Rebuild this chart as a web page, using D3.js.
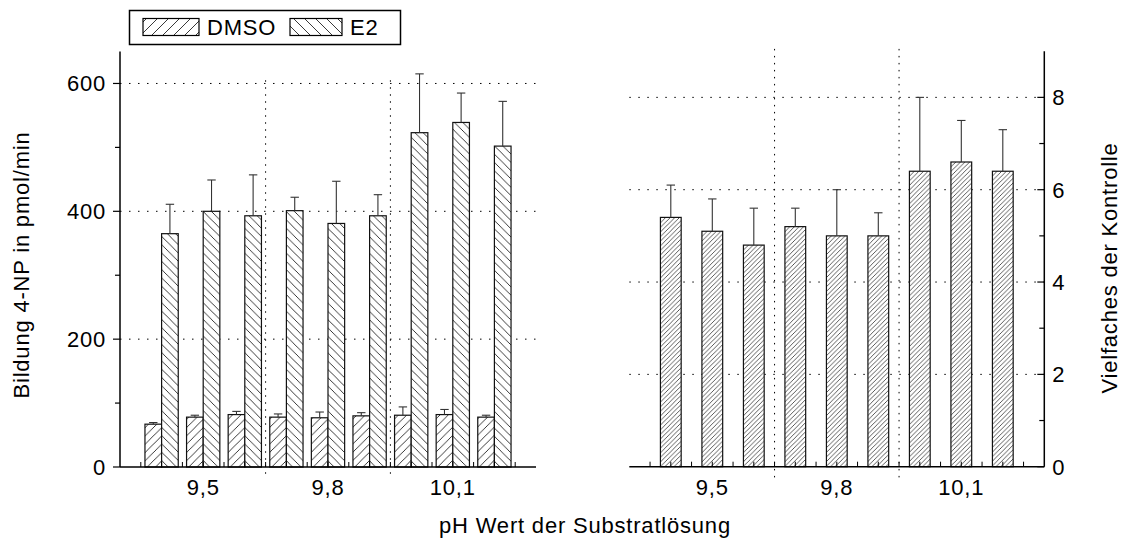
<!DOCTYPE html>
<html>
<head>
<meta charset="utf-8">
<script src="https://cdn.jsdelivr.net/npm/d3@7"></script>
<style>
  body { margin: 0; background: #fff; }
  text { font-family: "Liberation Sans", Arial, sans-serif; fill: #000; }
</style>
</head>
<body>
<div id="chart"></div>
<script>
// pH groups, three samples each
const groups = ["9,5", "9,8", "10,1"];
const dmso    = [67, 78, 82, 78, 77, 80, 81, 82, 78];
const dmsoErr = [2.5, 3, 5, 5, 9, 5, 13, 8, 3];
const e2      = [365, 400, 393, 401, 381, 393, 523, 539, 502];
const e2Err   = [46, 49, 64, 21, 66, 33, 92, 46, 70];
// fold of control (right panel)
const fold    = [5.4, 5.1, 4.8, 5.2, 5.0, 5.0, 6.4, 6.6, 6.4];
const foldErr = [0.7, 0.7, 0.8, 0.4, 1.0, 0.5, 1.6, 0.9, 0.9];
const leftTicks = [0, 200, 400, 600];
const leftMinor = [100, 300, 500];
const rightTicks = [0, 2, 4, 6, 8];
const rightMinor = [1, 3, 5, 7];

const width = 1124, height = 542;
const svg = d3.select("#chart").append("svg")
    .attr("width", width).attr("height", height);

// hatch patterns
const defs = svg.append("defs");
function hatch(id, size, dir, col, sw) {
    const s = size;
    const d = dir === "/"
        ? `M0,${s} L${s},0 M${-s / 2},${s / 2} L${s / 2},${-s / 2} M${s / 2},${s * 1.5} L${s * 1.5},${s / 2}`
        : `M0,0 L${s},${s} M${-s / 2},${s / 2} L${s / 2},${s * 1.5} M${s / 2},${-s / 2} L${s * 1.5},${s / 2}`;
    const p = defs.append("pattern").attr("id", id)
        .attr("patternUnits", "userSpaceOnUse")
        .attr("width", s).attr("height", s);
    p.append("rect").attr("width", s).attr("height", s).attr("fill", "#fff");
    p.append("path").attr("d", d).attr("stroke", col).attr("stroke-width", sw).attr("fill", "none");
}
hatch("dmsoL", 8.3, "/", "#222", 0.9);
hatch("e2L", 8.3, "\\", "#222", 0.9);
hatch("foldR", 4.6, "/", "#333", 0.8);
hatch("dmsoLeg", 11, "/", "#222", 0.9);
hatch("e2Leg", 11, "\\", "#222", 0.9);

const fontSize = 22, ls = "0.8px";

// ---------- left panel ----------
const xL = d3.scaleLinear().domain([0, 10]).range([120, 536]);
const yL = d3.scaleLinear().domain([0, 650]).range([467, 51.5]);
const L = svg.append("g");

// grid
L.selectAll(".hg").data(leftTicks.filter(d => d > 0)).enter().append("line")
    .attr("x1", xL(0)).attr("x2", xL(10))
    .attr("y1", d => yL(d)).attr("y2", d => yL(d))
    .attr("stroke", "#000").attr("stroke-width", 1).attr("stroke-dasharray", "1.5,7.5");
L.selectAll(".vs").data([3.5, 6.5]).enter().append("line")
    .attr("x1", d => xL(d)).attr("x2", d => xL(d))
    .attr("y1", yL(605)).attr("y2", 479)
    .attr("stroke", "#000").attr("stroke-width", 1).attr("stroke-dasharray", "1.5,5.5");

const bwL = xL(0.4) - xL(0);
const samples = d3.range(9);

// bars DMSO / E2
L.selectAll(".bd").data(samples).enter().append("rect")
    .attr("x", i => xL(i + 1) - bwL).attr("width", bwL)
    .attr("y", i => yL(dmso[i])).attr("height", i => yL(0) - yL(dmso[i]))
    .attr("fill", "url(#dmsoL)").attr("stroke", "#111").attr("stroke-width", 1.2);
L.selectAll(".be").data(samples).enter().append("rect")
    .attr("x", i => xL(i + 1)).attr("width", bwL)
    .attr("y", i => yL(e2[i])).attr("height", i => yL(0) - yL(e2[i]))
    .attr("fill", "url(#e2L)").attr("stroke", "#111").attr("stroke-width", 1.2);

function errBar(g, cx, y0, y1) {
    g.append("line").attr("x1", cx).attr("x2", cx).attr("y1", y0).attr("y2", y1)
        .attr("stroke", "#333").attr("stroke-width", 1.1);
    g.append("line").attr("x1", cx - 4.2).attr("x2", cx + 4.2).attr("y1", y1).attr("y2", y1)
        .attr("stroke", "#333").attr("stroke-width", 1.1);
}
samples.forEach(i => {
    errBar(L, xL(i + 1) - bwL / 2, yL(dmso[i]), yL(dmso[i] + dmsoErr[i]));
    errBar(L, xL(i + 1) + bwL / 2, yL(e2[i]), yL(e2[i] + e2Err[i]));
});

// axes
L.append("line").attr("x1", xL(0)).attr("x2", xL(10)).attr("y1", yL(0)).attr("y2", yL(0))
    .attr("stroke", "#000").attr("stroke-width", 1.5);
L.append("line").attr("x1", xL(0)).attr("x2", xL(0)).attr("y1", yL(0)).attr("y2", yL(650))
    .attr("stroke", "#000").attr("stroke-width", 1.5);
L.selectAll(".xt").data(d3.range(0.5, 10, 0.5)).enter().append("line")
    .attr("x1", d => xL(d)).attr("x2", d => xL(d)).attr("y1", yL(0)).attr("y2", yL(0) - 5)
    .attr("stroke", "#000").attr("stroke-width", 1);
L.selectAll(".yt").data(leftTicks).enter().append("line")
    .attr("x1", xL(0) - 7).attr("x2", xL(0)).attr("y1", d => yL(d)).attr("y2", d => yL(d))
    .attr("stroke", "#000").attr("stroke-width", 1.2);
L.selectAll(".ym").data(leftMinor).enter().append("line")
    .attr("x1", xL(0) - 5).attr("x2", xL(0)).attr("y1", d => yL(d)).attr("y2", d => yL(d))
    .attr("stroke", "#000").attr("stroke-width", 1.2);
L.selectAll(".yl").data(leftTicks).enter().append("text")
    .attr("x", xL(0) - 14).attr("y", d => yL(d) + 8)
    .attr("text-anchor", "end").attr("font-size", fontSize).attr("letter-spacing", ls)
    .text(d => d);
L.selectAll(".gl").data(groups).enter().append("text")
    .attr("x", (d, g) => xL(3 * g + 2)).attr("y", 495)
    .attr("text-anchor", "middle").attr("font-size", fontSize).attr("letter-spacing", ls)
    .text(d => d);

// ---------- right panel ----------
const xR = d3.scaleLinear().domain([0, 10]).range([629.3, 1044.3]);
const yR = d3.scaleLinear().domain([0, 9]).range([466.7, 51.2]);
const R = svg.append("g");

R.selectAll(".hg").data(rightTicks.filter(d => d > 0)).enter().append("line")
    .attr("x1", xR(0)).attr("x2", xR(10))
    .attr("y1", d => yR(d)).attr("y2", d => yR(d))
    .attr("stroke", "#000").attr("stroke-width", 1).attr("stroke-dasharray", "1.5,7.5");
R.selectAll(".vs").data([3.5, 6.5]).enter().append("line")
    .attr("x1", d => xR(d)).attr("x2", d => xR(d))
    .attr("y1", yR(9.05)).attr("y2", 479)
    .attr("stroke", "#000").attr("stroke-width", 1).attr("stroke-dasharray", "1.5,5.5");

const bwR = xR(0.5) - xR(0);
R.selectAll(".bf").data(samples).enter().append("rect")
    .attr("x", i => xR(i + 1) - bwR / 2).attr("width", bwR)
    .attr("y", i => yR(fold[i])).attr("height", i => yR(0) - yR(fold[i]))
    .attr("fill", "url(#foldR)").attr("stroke", "#111").attr("stroke-width", 1.2);
samples.forEach(i => errBar(R, xR(i + 1), yR(fold[i]), yR(fold[i] + foldErr[i])));

R.append("line").attr("x1", xR(0)).attr("x2", xR(10)).attr("y1", yR(0)).attr("y2", yR(0))
    .attr("stroke", "#000").attr("stroke-width", 1.5);
R.append("line").attr("x1", xR(10)).attr("x2", xR(10)).attr("y1", yR(0)).attr("y2", yR(9))
    .attr("stroke", "#000").attr("stroke-width", 1.5);
R.selectAll(".xt").data(d3.range(0.5, 10, 0.5)).enter().append("line")
    .attr("x1", d => xR(d)).attr("x2", d => xR(d)).attr("y1", yR(0)).attr("y2", yR(0) - 5)
    .attr("stroke", "#000").attr("stroke-width", 1);
R.selectAll(".yt").data(rightTicks).enter().append("line")
    .attr("x1", xR(10) - 7).attr("x2", xR(10)).attr("y1", d => yR(d)).attr("y2", d => yR(d))
    .attr("stroke", "#000").attr("stroke-width", 1.2);
R.selectAll(".ym").data(rightMinor).enter().append("line")
    .attr("x1", xR(10) - 5).attr("x2", xR(10)).attr("y1", d => yR(d)).attr("y2", d => yR(d))
    .attr("stroke", "#000").attr("stroke-width", 1.2);
R.selectAll(".yl").data(rightTicks).enter().append("text")
    .attr("x", xR(10) + 8).attr("y", d => yR(d) + 8)
    .attr("text-anchor", "start").attr("font-size", fontSize).attr("letter-spacing", ls)
    .text(d => d);
R.selectAll(".gl").data(groups).enter().append("text")
    .attr("x", (d, g) => xR(3 * g + 2)).attr("y", 495)
    .attr("text-anchor", "middle").attr("font-size", fontSize).attr("letter-spacing", ls)
    .text(d => d);

// ---------- titles ----------
svg.append("text").attr("x", 585).attr("y", 533)
    .attr("text-anchor", "middle").attr("font-size", fontSize).attr("letter-spacing", ls)
    .text("pH Wert der Substratlösung");
svg.append("text").attr("transform", "translate(29,265) rotate(-90)")
    .attr("text-anchor", "middle").attr("font-size", fontSize).attr("letter-spacing", ls)
    .text("Bildung 4-NP in pmol/min");
svg.append("text").attr("transform", "translate(1117,268) rotate(-90)")
    .attr("text-anchor", "middle").attr("font-size", fontSize).attr("letter-spacing", ls)
    .text("Vielfaches der Kontrolle");

// ---------- legend ----------
const leg = svg.append("g");
leg.append("rect").attr("x", 129.5).attr("y", 10.5).attr("width", 271).attr("height", 34)
    .attr("fill", "#fff").attr("stroke", "#000").attr("stroke-width", 1.5);
const legItems = [
    { name: "DMSO", fill: "url(#dmsoLeg)", x: 143, w: 56, tx: 207 },
    { name: "E2", fill: "url(#e2Leg)", x: 290, w: 52, tx: 350 }
];
legItems.forEach(d => {
    leg.append("rect").attr("x", d.x).attr("y", 18.5).attr("width", d.w).attr("height", 17)
        .attr("fill", d.fill).attr("stroke", "#000").attr("stroke-width", 1.2);
    leg.append("text").attr("x", d.tx).attr("y", 35).attr("font-size", fontSize).attr("letter-spacing", ls)
        .text(d.name);
});
</script>
</body>
</html>
